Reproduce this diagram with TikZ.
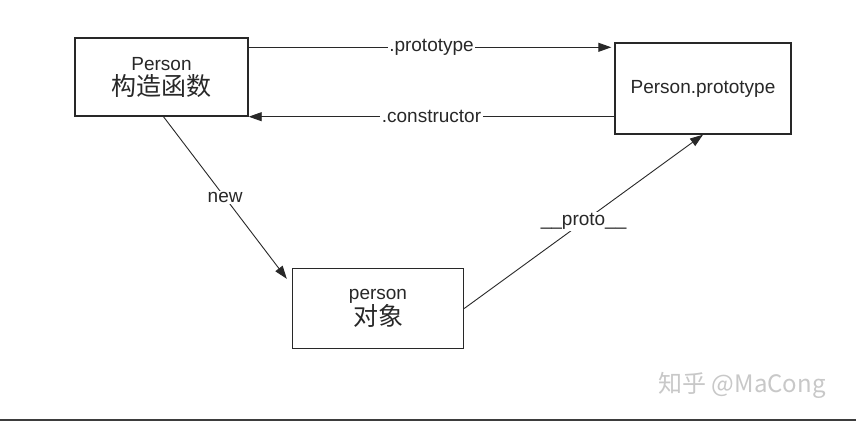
\documentclass[tikz,border=0pt]{standalone}
\usepackage{fontspec}
\setmainfont{Liberation Sans}
\newfontfamily\cjk{Noto Sans CJK SC}
\usetikzlibrary{arrows.meta,calc}
\definecolor{inkgray}{RGB}{40,40,40}
\definecolor{markgray}{RGB}{200,200,200}
\begin{document}
\begin{tikzpicture}[x=1pt,y=-1pt,
 box/.style={draw=inkgray,line width=1.4pt,fill=white,align=center,inner sep=0pt,
  text=inkgray,font=\fontsize{19}{25}\selectfont},
 arrow/.style={draw=inkgray,line width=0.9pt,-{Triangle[length=13pt,width=9pt]}},
 lbl/.style={fill=white,inner sep=1.5pt,text=inkgray,font=\fontsize{19}{22}\selectfont}]
\useasboundingbox (0,0) rectangle (856,421);
\fill[white] (0,0) rectangle (856,421);
\node[box,minimum width=173pt,minimum height=78pt] (ctor) at (161.5,77)
 {Person\\{\cjk\fontsize{25}{25}\selectfont 构造函数}};
\node[box,minimum width=176pt,minimum height=91pt] (proto) at (703,88.5)
 {Person.prototype};
\node[box,minimum width=171pt,minimum height=80pt] (obj) at (378,308.5)
 {person\\{\cjk\fontsize{25}{25}\selectfont 对象}};
%arrows between the boxes
\draw[arrow,shorten >=3pt] ([yshift=-10pt]ctor.north east) -- ([yshift=-10pt]ctor.north east -| proto.west)
 node[midway,lbl]{.prototype};
\draw[arrow] (proto.west |- ctor.south east) -- (ctor.south east)
 node[midway,lbl]{.constructor};
\draw[arrow] ([xshift=2pt]ctor.south) -- ($(obj.north west)+(-5,11)$)
 node[midway,lbl]{new};
\draw[arrow] (obj.east) -- (proto.south)
 node[midway,lbl]{\_\_proto\_\_};
%watermark and bottom rule
\node[text=markgray,font=\cjk\fontsize{24}{24}\selectfont] (mark) at (742,385) {知乎 @MaCong};
\draw[inkgray!90,line width=2pt] (0,419.5) -- (856,419.5);
\end{tikzpicture}
\end{document}
